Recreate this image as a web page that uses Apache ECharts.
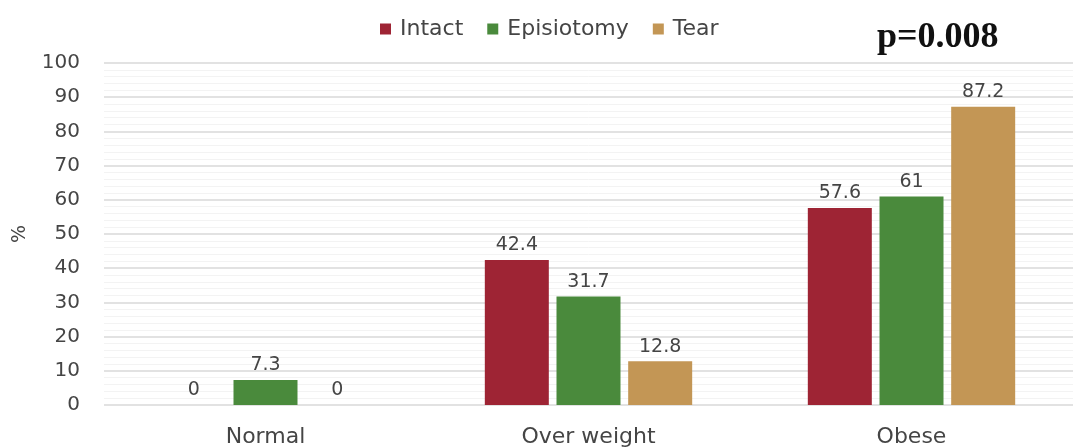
<!DOCTYPE html>
<html><head><meta charset="utf-8">
<script src="https://cdn.jsdelivr.net/npm/echarts@6/dist/echarts.min.js"></script>
<style>html,body{margin:0;padding:0;background:#fff}#c{width:1073px;height:448px}</style>
</head><body><div id="c"></div>
<script>
const categories = ["Normal", "Over weight", "Obese"];
const intact = [0, 42.4, 57.6];
const episiotomy = [7.3, 31.7, 61];
const tear = [0, 12.8, 87.2];
const yTicks = [0, 10, 20, 30, 40, 50, 60, 70, 80, 90, 100];

const font = "DejaVu Sans";
const txt = '#454545';
const chart = echarts.init(document.getElementById('c'));
const lbl = {show: true, position: 'top', color: txt, fontSize: 19, fontFamily: font, distance: 5};
chart.setOption({
  animation: false,
  textStyle: {fontFamily: font},
  legend: {
    left: 375, top: 13, itemWidth: 11, itemHeight: 11, itemGap: 24,
    icon: 'rect',
    textStyle: {color: txt, fontSize: 22, fontFamily: font, padding: [0, 0, 0, 4]},
    data: ['Intact', 'Episiotomy', 'Tear']
  },
  grid: {left: 104, right: -14, top: 63, bottom: 42},
  xAxis: {
    type: 'category', data: categories,
    axisLine: {show: false}, axisTick: {show: false},
    axisLabel: {color: txt, fontSize: 22, fontFamily: font, margin: 21}
  },
  yAxis: {
    type: 'value', min: yTicks[0], max: yTicks[yTicks.length - 1], interval: 10,
    name: '%', nameLocation: 'middle', nameGap: 74, nameRotate: 90,
    nameTextStyle: {color: txt, fontSize: 19, fontFamily: font},
    axisLine: {show: false}, axisTick: {show: false},
    axisLabel: {color: txt, fontSize: 20, fontFamily: font, margin: 24},
    splitLine: {lineStyle: {color: '#d9d9d9', width: 1.5}},
    minorTick: {show: false, splitNumber: 5},
    minorSplitLine: {show: true, lineStyle: {color: '#f3f3f3', width: 1}}
  },
  series: [
    {name: 'Intact', type: 'bar', data: intact, barWidth: 64, barGap: '12%', itemStyle: {color: '#9e2434'}, label: lbl},
    {name: 'Episiotomy', type: 'bar', data: episiotomy, barWidth: 64, barGap: '12%', itemStyle: {color: '#4a8a3c'}, label: lbl},
    {name: 'Tear', type: 'bar', data: tear, barWidth: 64, barGap: '12%', itemStyle: {color: '#c39655'}, label: lbl}
  ],
  graphic: [{
    type: 'text', x: 877, y: 38,
    style: {text: 'p=0.008', fontSize: 36, fontWeight: 'bold', fontFamily: 'Liberation Serif', fill: '#111', verticalAlign: 'middle', align: 'left'}
  }]
});
</script></body></html>
